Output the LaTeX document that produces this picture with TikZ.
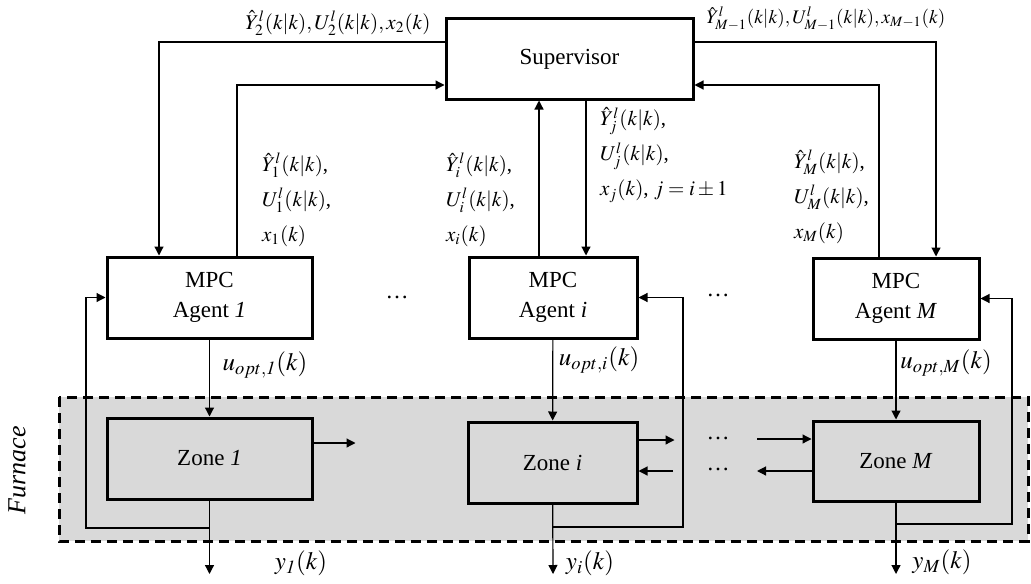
\documentclass[tikz,border=0pt]{standalone}
\usepackage{mathptmx}
\usepackage[no-math]{fontspec}
\setmainfont{Liberation Serif}
\usetikzlibrary{calc,positioning,arrows.meta}
\definecolor{furnacegray}{HTML}{D9D9D9}

\begin{document}
\begin{tikzpicture}[x=0.5pt, y=-0.5pt,
  block/.style={draw, line width=1.5pt, align=center, inner sep=0pt, font=\fontsize{11.5}{15}\selectfont},
  zonebox/.style={block, fill=furnacegray},
  sig/.style={line width=0.6pt, -{Triangle[length=4.5pt, width=4.5pt]}},
  lbl/.style={font=\fontsize{10.5}{17.5}\selectfont, align=left, anchor=west},
  outlbl/.style={font=\fontsize{12.5}{14}\selectfont}]
  \useasboundingbox (0,0) rectangle (1031,583);

  % Furnace
  \draw[fill=furnacegray, line width=1.5pt, dash pattern=on 5pt off 3pt] (59,397) rectangle (1028,541);
  \node[rotate=90, font=\fontsize{13}{15}\selectfont\itshape] (furnace) at (17,470) {Furnace};

  % Blocks
  \node[block, minimum width=123.5pt, minimum height=40pt] (sup) at (569.5,59) {Supervisor};
  \node[block, minimum width=102.5pt, minimum height=40.5pt] (mpc1) at (209.5,297.5) {MPC\\Agent \textit{1}};
  \node[block, minimum width=84pt, minimum height=40.5pt] (mpci) at (553,297.5) {MPC\\Agent \textit{i}};
  \node[block, minimum width=83pt, minimum height=40.5pt] (mpcM) at (896,298.5) {MPC\\Agent \textit{M}};
  \node[zonebox, minimum width=102.5pt, minimum height=40.5pt] (zone1) at (209.5,458.5) {Zone \textit{1}};
  \node[zonebox, minimum width=84.5pt, minimum height=40.5pt] (zonei) at (552.5,462.5) {Zone \textit{i}};
  \node[zonebox, minimum width=83pt, minimum height=40pt] (zoneM) at (896,461) {Zone \textit{M}};

  % Dots
  \node[font=\fontsize{11.5}{15}\selectfont] (dotsa) at (397,297) {\dots};
  \node[font=\fontsize{11.5}{15}\selectfont] (dotsb) at (718,295) {\dots};
  \node[font=\fontsize{11.5}{15}\selectfont] (dotsc) at (718,438) {\dots};
  \node[font=\fontsize{11.5}{15}\selectfont] (dotsd) at (718,469) {\dots};

  % Supervisor links
  \draw[sig] (sup.west |- 0,42) -| (mpc1.north -| 159,0);
  \draw[sig] (mpc1.north -| 237,0) |- (sup.west |- 0,85);
  \draw[sig] (mpci.north -| 539,0) -- (sup.south -| 539,0);
  \draw[sig] (sup.south -| 586,0) -- (mpci.north -| 586,0);
  \draw[sig] (sup.east |- 0,42) -| (mpcM.north -| 936,0);
  \draw[sig] (mpcM.north -| 879,0) |- (sup.east |- 0,85);

  % Control inputs
  \draw[sig] (mpc1) -- (zone1);
  \draw[sig] (mpci) -- (zonei);
  \draw[sig] (mpcM) -- (zoneM);

  % Outputs and feedback
  \coordinate (y1) at (209.5,574);
  \coordinate (yi) at (553,574);
  \coordinate (yM) at (896,574);
  \draw[sig] (zone1) -- (y1);
  \draw[sig] (zonei) -- (yi);
  \draw[sig] (zoneM) -- (yM);
  \draw[sig] (zone1.south |- 0,528) -- (86,528) |- (mpc1.west);
  \draw[sig] (zonei.south |- 0,527) -- (683,527) |- (mpci.east);
  \draw[sig] (zoneM.south |- 0,524) -- (1012,524) |- (mpcM.east);

  % Zone couplings
  \coordinate (zi_in) at (673,471);
  \coordinate (zM_in) at (757,439);
  \coordinate (zM_out) at (757,471);
  \draw[sig] (zone1.east |- 0,443) -- ++(42,0);
  \draw[sig] (zonei.east |- 0,440) -- ++(36,0);
  \draw[sig] (zi_in) -- (zonei.east |- zi_in);
  \draw[sig] (zM_in) -- (zoneM.west |- zM_in);
  \draw[sig] (zoneM.west |- zM_out) -- (zM_out);

  % Labels
  \node[font=\fontsize{10.5}{12}\selectfont] (top2) at (338,23) {$\hat{Y}_{2}^{l}(k|k),U_{2}^{l}(k|k),x_{2}(k)$};
  \node[font=\fontsize{9.6}{12}\selectfont] (topM) at (826,19) {$\hat{Y}_{M-1}^{l}(k|k),U_{M-1}^{l}(k|k),x_{M-1}(k)$};
  \node[lbl] (info1) at (255,200) {$\hat{Y}_{1}^{l}(k|k)$,\\ $U_{1}^{l}(k|k)$,\\ $x_{1}(k)$};
  \node[lbl] (infoi) at (439,200) {$\hat{Y}_{i}^{l}(k|k)$,\\ $U_{i}^{l}(k|k)$,\\ $x_{i}(k)$};
  \node[lbl] (infoj) at (593,155) {$\hat{Y}_{j}^{l}(k|k)$,\\ $U_{j}^{l}(k|k)$,\\ $x_{j}(k)$, $j=i\pm1$};
  \node[lbl] (infoM) at (787,197) {$\hat{Y}_{M}^{l}(k|k)$,\\ $U_{M}^{l}(k|k)$,\\ $x_{M}(k)$};
  \node[outlbl] (u1) at (265,365) {$u_{opt,\mathit{1}}(k)$};
  \node[outlbl] (ui) at (599,360) {$u_{opt,i}(k)$};
  \node[outlbl] (uM) at (946,363) {$u_{opt,M}(k)$};
  \node[outlbl] (ylab1) at (301,563) {$y_{\mathit{1}}(k)$};
  \node[outlbl] (ylabi) at (590,563) {$y_{i}(k)$};
  \node[outlbl] (ylabM) at (942,562) {$y_{M}(k)$};
\end{tikzpicture}
\end{document}
